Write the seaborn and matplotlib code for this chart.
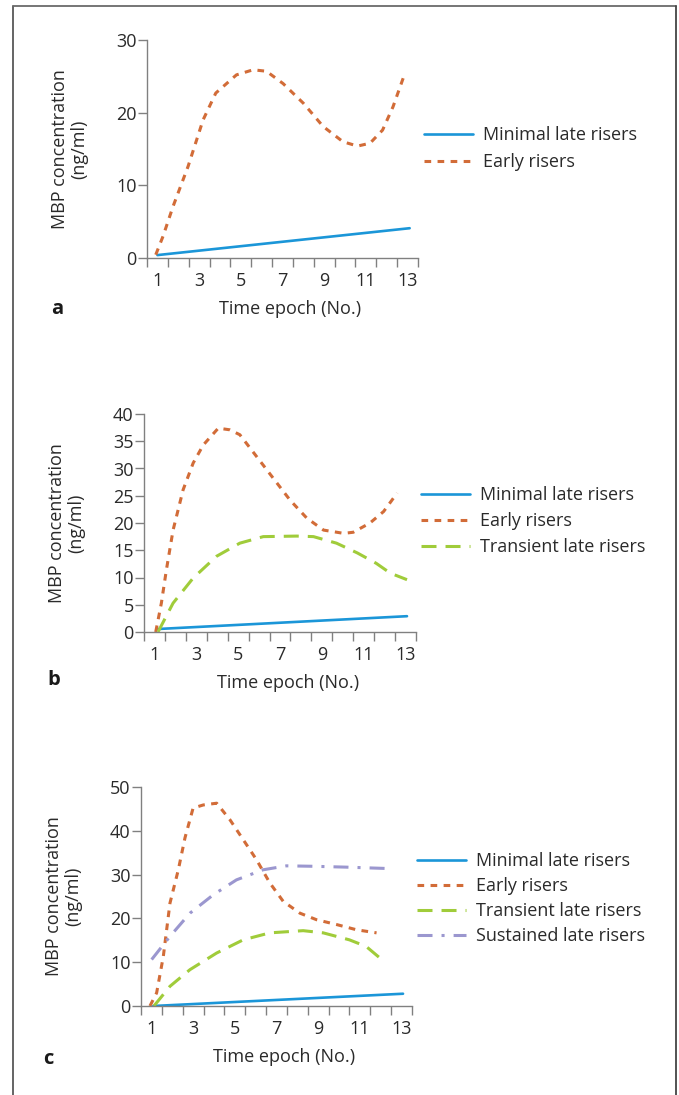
import numpy as np
import pandas as pd
import matplotlib
matplotlib.use("Agg")
import matplotlib.pyplot as plt
from matplotlib.lines import Line2D
import seaborn as sns

# ---------------- data ----------------
groups = ["Minimal late risers", "Early risers", "Transient late risers", "Sustained late risers"]
x_tick_labels = [1, 3, 5, 7, 9, 11, 13]

# panel a
a_min_x = [1.0, 13.1]
a_min_y = [0.4, 4.1]
a_early_x = [0.92, 1.27, 1.75, 2.47, 3.19, 3.8, 4.79, 5.59, 6.23, 7.03, 8.0, 8.95, 9.9, 10.6, 11.2, 11.8, 12.3, 12.87]
a_early_y = [0.45, 3.0, 7.1, 12.6, 19.0, 22.7, 25.2, 25.9, 25.7, 24.0, 21.3, 18.1, 16.0, 15.4, 15.8, 17.6, 20.8, 25.4]
a_yticks = [0, 10, 20, 30]

# panel b
b_min_x = [1.17, 13.07]
b_min_y = [0.55, 2.9]
b_early_x = [1.06, 1.33, 1.57, 1.89, 2.37, 2.85, 3.33, 4.05, 4.6, 5.08, 5.88, 6.68, 7.48, 8.28, 9.08, 10.04, 10.5, 11.3, 11.95, 12.6]
b_early_y = [0.0, 5.3, 11.4, 18.7, 26.1, 31.0, 34.3, 37.4, 37.1, 36.2, 32.2, 28.2, 24.2, 20.9, 18.7, 18.1, 18.3, 20.0, 22.1, 25.5]
b_trans_x = [1.17, 1.89, 2.85, 3.97, 5.08, 6.2, 7.8, 8.6, 9.7, 10.7, 11.6, 12.27, 13.07]
b_trans_y = [0.0, 5.3, 9.9, 13.9, 16.3, 17.5, 17.6, 17.5, 16.3, 14.5, 12.6, 10.8, 9.6]
b_yticks = [0, 5, 10, 15, 20, 25, 30, 35, 40]

# panel c
c_min_x = [1.09, 13.07]
c_min_y = [0.0, 2.8]
c_early_x = [0.93, 1.25, 1.57, 1.89, 2.29, 2.61, 3.0, 3.49, 4.13, 4.77, 5.4, 6.04, 6.68, 7.32, 8.12, 8.92, 9.88, 10.84, 11.8]
c_early_y = [0.0, 3.0, 11.3, 23.5, 31.1, 38.4, 45.2, 45.9, 46.3, 42.5, 38.0, 33.4, 28.1, 23.9, 21.2, 19.7, 18.6, 17.4, 16.7]
c_trans_x = [1.12, 1.89, 2.85, 4.13, 5.4, 6.68, 8.28, 9.24, 10.5, 11.3, 11.95]
c_trans_y = [0.0, 4.5, 8.3, 12.1, 15.1, 16.7, 17.2, 16.7, 15.1, 13.6, 11.0]
c_sust_x = [1.01, 1.89, 2.85, 3.97, 5.08, 6.36, 7.48, 8.76, 10.36, 12.27]
c_sust_y = [10.6, 15.9, 21.2, 25.4, 28.8, 31.1, 32.0, 31.9, 31.7, 31.4]
c_yticks = [0, 10, 20, 30, 40, 50]

# ---------------- styles ----------------
sns.set_theme(style="white")
plt.rcParams["font.family"] = ["Open Sans", "DejaVu Sans"]
plt.rcParams["lines.scale_dashes"] = False
TXT = "#2a2a2a"
AX = "#808080"
FS = 13

palette = {
    "Minimal late risers": "#1b96d8",
    "Early risers": "#d26c38",
    "Transient late risers": "#a0cc3a",
    "Sustained late risers": "#9b97cf",
}
dashes = {
    "Minimal late risers": "",
    "Early risers": (4.8, 4.6),
    "Transient late risers": (10.8, 6.5),
    "Sustained late risers": (10.8, 6.5, 2.2, 6.5),
}
widths = {
    "Minimal late risers": 1.9,
    "Early risers": 2.2,
    "Transient late risers": 2.2,
    "Sustained late risers": 2.2,
}

W, H = 679, 1095
fig = plt.figure(figsize=(W / 100, H / 100), dpi=100)


def fx(px):
    return px / W


def fy(py):
    return 1 - py / H


def make_df(series):
    frames = []
    for name, xs, ys in series:
        frames.append(pd.DataFrame({"epoch": xs, "conc": ys, "group": name}))
    return pd.concat(frames, ignore_index=True)


panels = [
    dict(box=(147, 418, 40, 258), ylim=30, yticks=a_yticks, letter="a", letter_pos=(57, 309),
         legend=(424, 126), lspace=0.5,
         series=[(groups[0], a_min_x, a_min_y), (groups[1], a_early_x, a_early_y)]),
    dict(box=(144, 416, 414, 632), ylim=40, yticks=b_yticks, letter="b", letter_pos=(54, 680),
         legend=(421, 486), lspace=0.44,
         series=[(groups[0], b_min_x, b_min_y), (groups[1], b_early_x, b_early_y),
                 (groups[2], b_trans_x, b_trans_y)]),
    dict(box=(141, 412, 787, 1006), ylim=50, yticks=c_yticks, letter="c", letter_pos=(48, 1059),
         legend=(417, 852), lspace=0.39,
         series=[(groups[0], c_min_x, c_min_y), (groups[1], c_early_x, c_early_y),
                 (groups[2], c_trans_x, c_trans_y), (groups[3], c_sust_x, c_sust_y)]),
]

for p in panels:
    L, R, T, B = p["box"]
    ax = fig.add_axes([fx(L), fy(B), fx(R) - fx(L), (B - T) / H])
    df = make_df(p["series"])
    names = [s[0] for s in p["series"]]
    for name in names:
        sub = df[df["group"] == name]
        sns.lineplot(data=sub, x="epoch", y="conc", color=palette[name], ax=ax,
                     estimator=None, sort=False, lw=widths[name], dashes=False,
                     label=name, legend=False)
        ln = ax.lines[-1]
        if dashes[name]:
            ln.set_dashes(dashes[name])
        ln.set_dash_capstyle("butt")
    ax.set_xlim(0.5, 13.5)
    ax.set_ylim(0, p["ylim"])
    ax.set_xlabel("")
    ax.set_ylabel("")
    ax.set_facecolor("none")
    for s in ["top", "right"]:
        ax.spines[s].set_visible(False)
    for s in ["left", "bottom"]:
        ax.spines[s].set_color(AX)
        ax.spines[s].set_linewidth(1.0)
    ax.set_xticks(x_tick_labels)
    ax.set_xticklabels([str(v) for v in x_tick_labels])
    ax.set_xticks(np.arange(0.5, 14.0, 1.0), minor=True)
    ax.tick_params(axis="x", which="major", length=0, pad=10, labelsize=FS, labelcolor=TXT)
    ax.tick_params(axis="x", which="minor", length=6.5, width=1.0, color=AX, direction="out", bottom=True)
    ax.set_yticks(p["yticks"])
    ax.tick_params(axis="y", which="major", length=6.5, width=1.0, color=AX, pad=1,
                   labelsize=FS, labelcolor=TXT, left=True)
    ax.grid(False)

    # axis titles
    fig.text(fx(L - 77), fy((T + B) / 2), "MBP concentration\n(ng/ml)", rotation=90,
             ha="center", va="center", multialignment="center", fontsize=FS, color=TXT,
             linespacing=1.1)
    fig.text(fx((L + R) / 2 + 8), fy(B + 51), "Time epoch (No.)", ha="center", va="center",
             fontsize=FS, color=TXT)
    fig.text(fx(p["letter_pos"][0]), fy(p["letter_pos"][1]), p["letter"], ha="center",
             va="center", fontsize=14.5, fontweight="bold", color="#1a1a1a")

    # legend
    handles = [Line2D([], [], color=palette[n], lw=widths[n]) for n in names]
    for h, n in zip(handles, names):
        if dashes[n]:
            h.set_dashes(dashes[n])
        h.set_dash_capstyle("butt")
    lx, ly = p["legend"]
    leg = ax.legend(handles, names, loc="upper left",
                    bbox_to_anchor=(fx(lx), fy(ly)), bbox_transform=fig.transFigure,
                    frameon=False, fontsize=FS, handlelength=2.7, handletextpad=0.55,
                    labelspacing=p["lspace"], borderpad=0, borderaxespad=0)
    for t in leg.get_texts():
        t.set_color(TXT)

# figure frame
fig.add_artist(Line2D([fx(13), fx(13)], [0, fy(6)], transform=fig.transFigure, color="#3a3a3a", lw=1.1))
fig.add_artist(Line2D([fx(13), fx(676)], [fy(6), fy(6)], transform=fig.transFigure, color="#6a6a6a", lw=1.3))
fig.add_artist(Line2D([fx(676), fx(676)], [0, fy(6)], transform=fig.transFigure, color="#444444", lw=1.3))

fig.savefig("out.png", dpi=100)
